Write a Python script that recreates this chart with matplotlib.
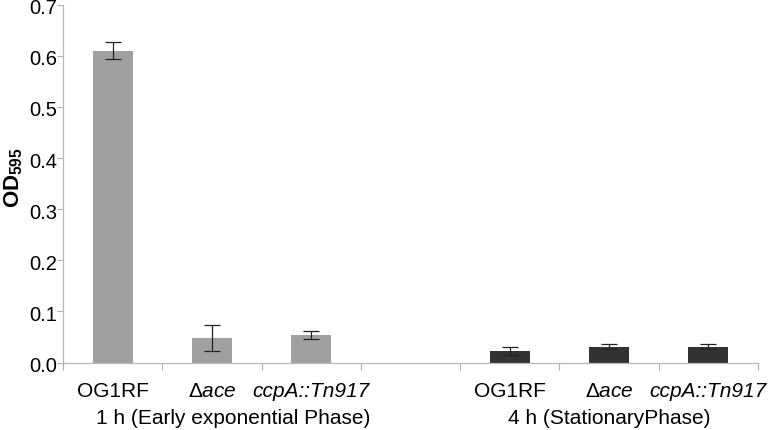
import matplotlib
matplotlib.use("Agg")
import matplotlib.pyplot as plt
import numpy as np

plt.rcParams['font.family'] = ['Liberation Sans', 'DejaVu Sans']
plt.rcParams['mathtext.fontset'] = 'custom'
plt.rcParams['mathtext.rm'] = 'Liberation Sans'
plt.rcParams['mathtext.it'] = 'Liberation Sans:italic'
plt.rcParams['mathtext.bf'] = 'Liberation Sans:bold'

# ---- data ----
strains = ['OG1RF', r'$\mathrm{\Delta}\mathit{ace}$', 'ccpA::Tn917']
strain_styles = ['normal', 'normal', 'italic']
values_1h = [0.610, 0.048, 0.053]
errors_1h = [0.017, 0.025, 0.008]
values_4h = [0.022, 0.031, 0.031]
errors_4h = [0.008, 0.005, 0.005]
group_labels = ['1 h (Early exponential Phase)', '4 h (StationaryPhase)']
y_ticks = [0.0, 0.1, 0.2, 0.3, 0.4, 0.5, 0.6, 0.7]

# ---- layout ----
W, H, DPI = 777, 430, 100
fig = plt.figure(figsize=(W / DPI, H / DPI), dpi=DPI)
ax = fig.add_axes([63 / W, 1 - 362.5 / H, (758 - 63) / W, (362.5 - 4.7) / H])

pos_1h = np.arange(3)
pos_4h = np.arange(3) + 4
bw = 0.4
ekw = dict(elinewidth=0.9, capthick=0.9, ecolor='#222222')
ax.bar(pos_1h, values_1h, bw, color='#a0a0a0', yerr=errors_1h, capsize=6, error_kw=ekw, zorder=2)
ax.bar(pos_4h, values_4h, bw, color='#333333', yerr=errors_4h, capsize=6, error_kw=ekw, zorder=2)

ax.set_xlim(-0.5, 6.5)
ax.set_ylim(0, 0.7)
ax.set_yticks(y_ticks)
ax.set_yticklabels([])
for v in y_ticks:
    ax.annotate(f'{v:.1f}', xy=(0, v), xycoords=('axes fraction', 'data'),
                xytext=(-4.5, -2.9), textcoords='offset points',
                ha='right', va='center', fontsize=14.5, annotation_clip=False)

ax.set_xticks(np.arange(-0.5, 7, 1.0))
ax.set_xticklabels([])
ax.tick_params(axis='x', length=5, width=0.8, color='#b0b0b0', direction='out')
ax.tick_params(axis='y', length=4, width=0.8, color='#b0b0b0', direction='out')

for s in ['top', 'right']:
    ax.spines[s].set_visible(False)
for s in ['left', 'bottom']:
    ax.spines[s].set_color('#b8b8b8')
    ax.spines[s].set_linewidth(0.9)

for positions in (pos_1h, pos_4h):
    for p, lab, st in zip(positions, strains, strain_styles):
        ax.annotate(lab, xy=(p, 0), xycoords=('data', 'axes fraction'),
                    xytext=(0, -24.5), textcoords='offset points',
                    ha='center', va='baseline', fontsize=15, fontstyle=st)

group_x = [1.21, 5.0]
for gx, gl in zip(group_x, group_labels):
    ax.annotate(gl, xy=(gx, 0), xycoords=('data', 'axes fraction'),
                xytext=(0, -44.3), textcoords='offset points',
                ha='center', va='baseline', fontsize=15)

fig.text(2 / W, 1 - 178 / H, r'$\mathbf{OD}_{\mathbf{595}}$', rotation=90,
         ha='left', va='center', fontsize=16)

fig.savefig('out.png', dpi=DPI)
